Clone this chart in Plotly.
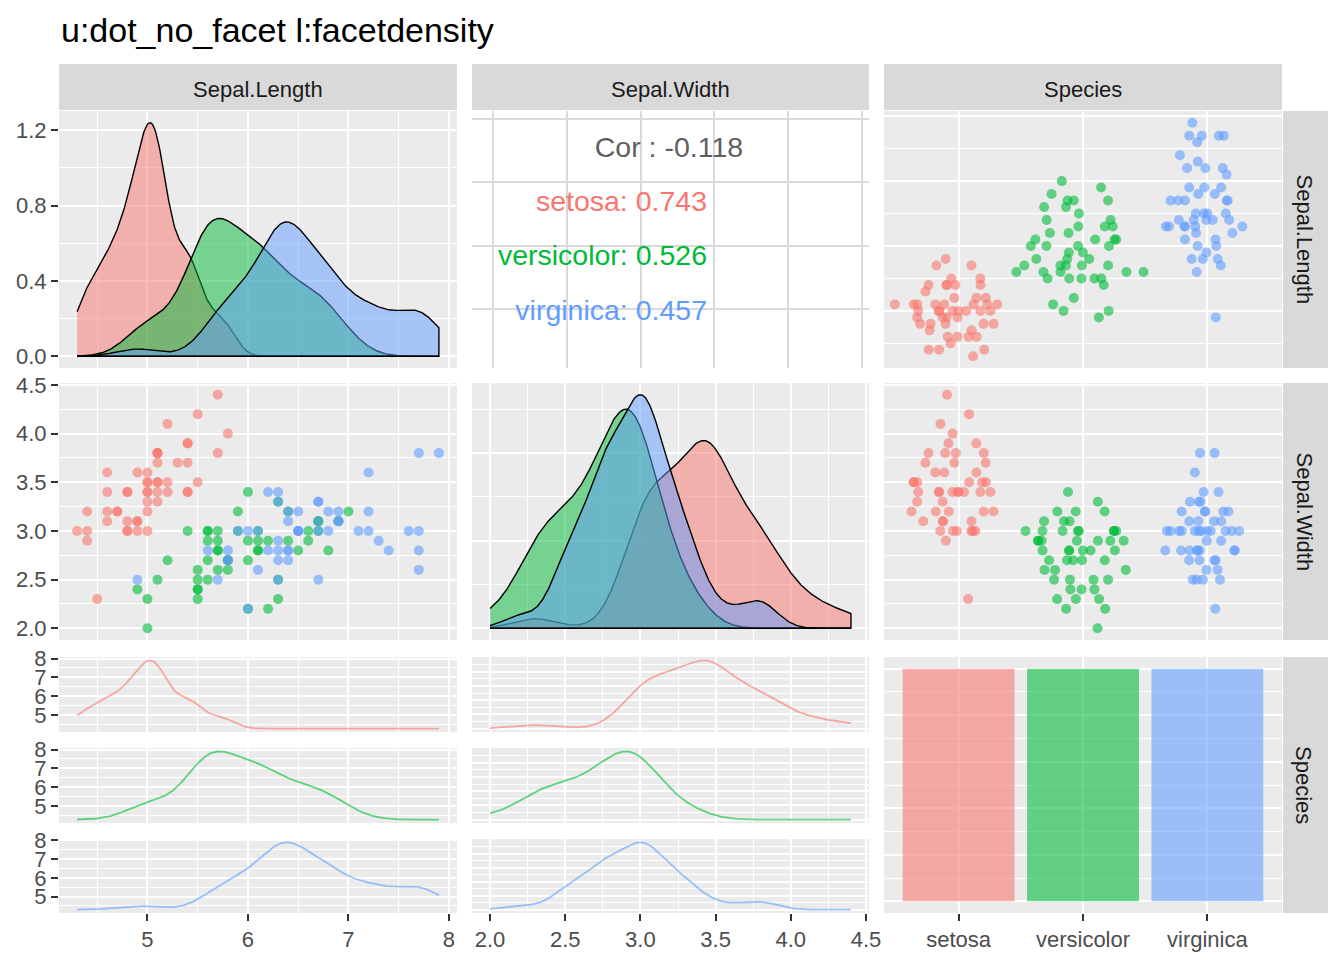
import numpy as np
import plotly.graph_objects as go

# iris data (R), read per species
species = ["setosa", "versicolor", "virginica"]
species_colors = ["#F8766D", "#00BA38", "#619CFF"]

setosa_sepal_length = [5.1, 4.9, 4.7, 4.6, 5.0, 5.4, 4.6, 5.0, 4.4, 4.9, 5.4, 4.8, 4.8, 4.3, 5.8, 5.7, 5.4,
                       5.1, 5.7, 5.1, 5.4, 5.1, 4.6, 5.1, 4.8, 5.0, 5.0, 5.2, 5.2, 4.7, 4.8, 5.4, 5.2, 5.5,
                       4.9, 5.0, 5.5, 4.9, 4.4, 5.1, 5.0, 4.5, 4.4, 5.0, 5.1, 4.8, 5.1, 4.6, 5.3, 5.0]
setosa_sepal_width = [3.5, 3.0, 3.2, 3.1, 3.6, 3.9, 3.4, 3.4, 2.9, 3.1, 3.7, 3.4, 3.0, 3.0, 4.0, 4.4, 3.9,
                      3.5, 3.8, 3.8, 3.4, 3.7, 3.6, 3.3, 3.4, 3.0, 3.4, 3.5, 3.4, 3.2, 3.1, 3.4, 4.1, 4.2,
                      3.1, 3.2, 3.5, 3.6, 3.0, 3.4, 3.5, 2.3, 3.2, 3.5, 3.8, 3.0, 3.8, 3.2, 3.7, 3.3]
versicolor_sepal_length = [7.0, 6.4, 6.9, 5.5, 6.5, 5.7, 6.3, 4.9, 6.6, 5.2, 5.0, 5.9, 6.0, 6.1, 5.6, 6.7,
                           5.6, 5.8, 6.2, 5.6, 5.9, 6.1, 6.3, 6.1, 6.4, 6.6, 6.8, 6.7, 6.0, 5.7, 5.5, 5.5,
                           5.8, 6.0, 5.4, 6.0, 6.7, 6.3, 5.6, 5.5, 5.5, 6.1, 5.8, 5.0, 5.6, 5.7, 5.7, 6.2,
                           5.1, 5.7]
versicolor_sepal_width = [3.2, 3.2, 3.1, 2.3, 2.8, 2.8, 3.3, 2.4, 2.9, 2.7, 2.0, 3.0, 2.2, 2.9, 2.9, 3.1,
                          3.0, 2.7, 2.2, 2.5, 3.2, 2.8, 2.5, 2.8, 2.9, 3.0, 2.8, 3.0, 2.9, 2.6, 2.4, 2.4,
                          2.7, 2.7, 3.0, 3.4, 3.1, 2.3, 3.0, 2.5, 2.6, 3.0, 2.6, 2.3, 2.7, 3.0, 2.9, 2.9,
                          2.5, 2.8]
virginica_sepal_length = [6.3, 5.8, 7.1, 6.3, 6.5, 7.6, 4.9, 7.3, 6.7, 7.2, 6.5, 6.4, 6.8, 5.7, 5.8, 6.4,
                          6.5, 7.7, 7.7, 6.0, 6.9, 5.6, 7.7, 6.3, 6.7, 7.2, 6.2, 6.1, 6.4, 7.2, 7.4, 7.9,
                          6.4, 6.3, 6.1, 7.7, 6.3, 6.4, 6.0, 6.9, 6.7, 6.9, 5.8, 6.8, 6.7, 6.7, 6.3, 6.5,
                          6.2, 5.9]
virginica_sepal_width = [3.3, 2.7, 3.0, 2.9, 3.0, 3.0, 2.5, 2.9, 2.5, 3.6, 3.2, 2.7, 3.0, 2.5, 2.8, 3.2,
                         3.0, 3.8, 2.6, 2.2, 3.2, 2.8, 2.8, 2.7, 3.3, 3.2, 2.8, 3.0, 2.8, 3.0, 2.8, 3.8,
                         2.8, 2.8, 2.6, 3.0, 3.4, 3.1, 3.0, 3.1, 3.1, 3.1, 2.7, 3.2, 3.3, 3.0, 2.5, 3.0,
                         3.4, 3.0]

cor_all = "-0.118"
cor_by_species = ["0.743", "0.526", "0.457"]

variables = ["Sepal.Length", "Sepal.Width", "Species"]

FONT = "Liberation Sans, Arial, sans-serif"
W, H = 1344, 960
col_px = [(59, 457), (472, 869), (884, 1282)]
row_px = [(111, 368), (383, 640), (657, 913)]
facet_px = [(657, 732), (748, 823), (839, 913)]

sl_groups = [setosa_sepal_length, versicolor_sepal_length, virginica_sepal_length]
sw_groups = [setosa_sepal_width, versicolor_sepal_width, virginica_sepal_width]


def rgba(hex_color, a):
    h = hex_color.lstrip("#")
    return "rgba(%d,%d,%d,%s)" % (int(h[0:2], 16), int(h[2:4], 16), int(h[4:6], 16), a)


def kde(values, lo, hi, n=512):
    # gaussian kernel, bw.nrd0 like R
    v = np.asarray(values, dtype=float)
    q75, q25 = np.percentile(v, [75, 25])
    bw = 0.9 * min(v.std(ddof=1), (q75 - q25) / 1.34) * len(v) ** -0.2
    grid = np.linspace(lo, hi, n)
    d = np.exp(-0.5 * ((grid[:, None] - v[None, :]) / bw) ** 2).sum(axis=1)
    return grid, d / (len(v) * bw * np.sqrt(2 * np.pi))


def pad(lo, hi, f=0.05):
    e = (hi - lo) * f
    return [lo - e, hi + e]


def xdom(c):
    return [col_px[c][0] / W, col_px[c][1] / W]


def ydom(top, bottom):
    return [1 - bottom / H, 1 - top / H]


tickfont = dict(family=FONT, size=22, color="#4D4D4D")


def axis(dom, anchor, rng, tick0=None, dtick=None, minor=None, labels=False, fmt=None,
         grid="white", gw=2, **kw):
    a = dict(domain=dom, anchor=anchor, range=rng, showgrid=True, gridcolor=grid, gridwidth=gw,
             zeroline=False, showline=False, ticks="outside" if labels else "",
             showticklabels=labels, tickfont=tickfont, ticklen=7, tickwidth=1.5,
             tickcolor="#333333", fixedrange=True, automargin=False)
    if dtick is not None:
        a.update(tickmode="linear", tick0=tick0, dtick=dtick)
    if minor is not None:
        a["minor"] = dict(tick0=minor[0], dtick=minor[1], showgrid=True, gridcolor="white",
                          gridwidth=1, ticks="")
    if fmt:
        a["tickformat"] = fmt
    a.update(kw)
    return a


sl_lo, sl_hi = min(map(min, sl_groups)), max(map(max, sl_groups))
sw_lo, sw_hi = min(map(min, sw_groups)), max(map(max, sw_groups))

dens_sl = [kde(g, sl_lo, sl_hi) for g in sl_groups]
dens_sw = [kde(g, sw_lo, sw_hi) for g in sw_groups]
m1 = max(d.max() for _, d in dens_sl)
m2 = max(d.max() for _, d in dens_sw)

fig = go.Figure()


def ref(i):
    return ("x", "y") if i == 1 else ("x%d" % i, "y%d" % i)


# 1: density Sepal.Length, 5: density Sepal.Width
for panel, dens, lo, hi in [(1, dens_sl, sl_lo, sl_hi), (5, dens_sw, sw_lo, sw_hi)]:
    xr, yr = ref(panel)
    for i, (g, d) in enumerate(dens):
        fig.add_trace(go.Scatter(
            x=np.concatenate([g, [hi, lo]]), y=np.concatenate([d, [0, 0]]),
            mode="lines", fill="toself", fillcolor=rgba(species_colors[i], 0.5),
            line=dict(color="black", width=1.4), xaxis=xr, yaxis=yr, hoverinfo="skip"))

# 2: correlation text
cor_x_rng = [1.858, 4.547]
cor_y_rng = [4.068, 8.126]
cx = cor_x_rng[0] + 0.496 * (cor_x_rng[1] - cor_x_rng[0])
rx = cor_x_rng[0] + 0.592 * (cor_x_rng[1] - cor_x_rng[0])
line_y = [cor_y_rng[0] + f * (cor_y_rng[1] - cor_y_rng[0]) for f in (0.85, 0.638, 0.428, 0.214)]
fig.add_trace(go.Scatter(
    x=[cx], y=[line_y[0]], mode="text", text=["Cor : " + cor_all],
    textposition="middle center", textfont=dict(family=FONT, size=28.5, color="#5F5F5F"),
    xaxis="x2", yaxis="y2", hoverinfo="skip"))
for i in range(3):
    fig.add_trace(go.Scatter(
        x=[rx], y=[line_y[i + 1]], mode="text",
        text=["%s: %s" % (species[i], cor_by_species[i])],
        textposition="middle left", textfont=dict(family=FONT, size=28.5, color=species_colors[i]),
        xaxis="x2", yaxis="y2", hoverinfo="skip"))

# 3, 6: jittered points by species
for panel, groups in [(3, sl_groups), (6, sw_groups)]:
    xr, yr = ref(panel)
    for i, g in enumerate(groups):
        fig.add_trace(go.Box(
            x=[species[i]] * len(g), y=g, boxpoints="all", jitter=1, pointpos=0, width=1.1,
            fillcolor="rgba(0,0,0,0)", line=dict(width=0, color="rgba(0,0,0,0)"),
            marker=dict(color=rgba(species_colors[i], 0.6), size=10),
            xaxis=xr, yaxis=yr, hoverinfo="skip"))

# 4: scatter
for i in range(3):
    fig.add_trace(go.Scatter(
        x=sl_groups[i], y=sw_groups[i], mode="markers",
        marker=dict(color=rgba(species_colors[i], 0.6), size=10),
        xaxis="x4", yaxis="y4", hoverinfo="skip"))

# 7-9 and 10-12: faceted scaled densities
for base, dens, lo, hi in [(7, dens_sl, sl_lo, sl_hi), (10, dens_sw, sw_lo, sw_hi)]:
    for i, (g, d) in enumerate(dens):
        xr, yr = ref(base + i)
        fig.add_trace(go.Scatter(
            x=g, y=d / d.max() * (hi - lo) + lo, mode="lines",
            line=dict(color=rgba(species_colors[i], 0.6), width=1.8),
            xaxis=xr, yaxis=yr, hoverinfo="skip"))

# 13: counts
fig.add_trace(go.Bar(
    x=species, y=[len(g) for g in sl_groups], width=0.9,
    marker=dict(color=[rgba(c, 0.58) for c in species_colors], line=dict(width=0)),
    xaxis="x13", yaxis="y13", hoverinfo="skip"))

# axes
x_sl = dict(rng=pad(sl_lo, sl_hi), tick0=5, dtick=1, minor=(4.5, 0.5))
x_sw = dict(rng=pad(sw_lo, sw_hi), tick0=2, dtick=0.5, minor=(2.0, 0.25), fmt=".1f")
x_sp = dict(rng=[-0.6, 2.6], type="category", categoryorder="array", categoryarray=species)
y_sl = dict(rng=pad(sl_lo, sl_hi), tick0=5, dtick=1, minor=(4.5, 0.5))
y_sw = dict(rng=pad(sw_lo, sw_hi), tick0=2, dtick=0.5, minor=(2.0, 0.25), fmt=".1f")

panels = [
    (1, 0, row_px[0], x_sl, dict(rng=[-0.05 * m1, 1.05 * m1], tick0=0, dtick=0.4,
                                    minor=(0, 0.2), fmt=".1f", labels=True)),
    (2, 1, row_px[0], dict(rng=cor_x_rng, tick0=2, dtick=0.5, grid="#D9D9D9", gw=1.6),
     dict(rng=cor_y_rng, tick0=5, dtick=1, grid="#D9D9D9", gw=1.6)),
    (3, 2, row_px[0], x_sp, y_sl),
    (4, 0, row_px[1], x_sl, dict(y_sw, labels=True)),
    (5, 1, row_px[1], x_sw, dict(rng=[-0.05 * m2, 1.05 * m2], tick0=0, dtick=0.5,
                                    minor=(0, 0.25))),
    (6, 2, row_px[1], x_sp, y_sw),
    (7, 0, facet_px[0], x_sl, dict(y_sl, labels=True)),
    (8, 0, facet_px[1], x_sl, dict(y_sl, labels=True)),
    (9, 0, facet_px[2], dict(x_sl, labels=True), dict(y_sl, labels=True)),
    (10, 1, facet_px[0], x_sw, y_sw),
    (11, 1, facet_px[1], x_sw, y_sw),
    (12, 1, facet_px[2], dict(x_sw, labels=True), y_sw),
    (13, 2, row_px[2], dict(x_sp, labels=True),
     dict(rng=[-2.5, 52.5], tick0=0, dtick=10, minor=(0, 5))),
]

layout_axes = {}
shapes = []
for idx, c, (top, bottom), xc, yc in panels:
    xr, yr = ref(idx)
    xc, yc = dict(xc), dict(yc)
    layout_axes["xaxis" if idx == 1 else "xaxis%d" % idx] = axis(
        xdom(c), yr, xc.pop("rng"), **xc)
    layout_axes["yaxis" if idx == 1 else "yaxis%d" % idx] = axis(
        ydom(top, bottom), xr, yc.pop("rng"), **yc)
    if idx != 2:
        shapes.append(dict(type="rect", xref=xr + " domain", yref=yr + " domain",
                           x0=0, x1=1, y0=0, y1=1, fillcolor="#EBEBEB",
                           line=dict(width=0), layer="below"))

annotations = []
strip_font = dict(family=FONT, size=22, color="#1A1A1A")
for c in range(3):
    x0, x1 = col_px[c]
    shapes.append(dict(type="rect", xref="paper", yref="paper", x0=x0 / W, x1=x1 / W,
                       y0=1 - 110 / H, y1=1 - 64 / H, fillcolor="#D9D9D9",
                       line=dict(width=0), layer="below"))
    annotations.append(dict(text=variables[c], xref="paper", yref="paper",
                            x=(x0 + x1) / 2 / W, y=1 - 89 / H, showarrow=False,
                            font=strip_font, xanchor="center", yanchor="middle"))
for r in range(3):
    top, bottom = row_px[r]
    shapes.append(dict(type="rect", xref="paper", yref="paper", x0=1283 / W, x1=1328 / W,
                       y0=1 - bottom / H, y1=1 - top / H, fillcolor="#D9D9D9",
                       line=dict(width=0), layer="below"))
    annotations.append(dict(text=variables[r], xref="paper", yref="paper",
                            x=1304 / W, y=1 - (top + bottom) / 2 / H, showarrow=False,
                            font=strip_font, textangle=90, xanchor="center",
                            yanchor="middle"))

annotations.append(dict(text="u:dot_no_facet l:facetdensity", xref="paper", yref="paper",
                        x=59 / W, y=1 - 30 / H, showarrow=False, xanchor="left",
                        yanchor="middle", font=dict(family=FONT, size=34, color="black")))

fig.update_layout(
    width=W, height=H, margin=dict(l=0, r=0, t=0, b=0, pad=0, autoexpand=False),
    paper_bgcolor="white", plot_bgcolor="rgba(0,0,0,0)",
    showlegend=False, boxmode="overlay", barmode="overlay",
    font=dict(family=FONT),
    shapes=shapes, annotations=annotations,
    **layout_axes,
)

fig.write_html("out.html", config={"displayModeBar": False},
               post_script="document.body.style.margin='0';")
